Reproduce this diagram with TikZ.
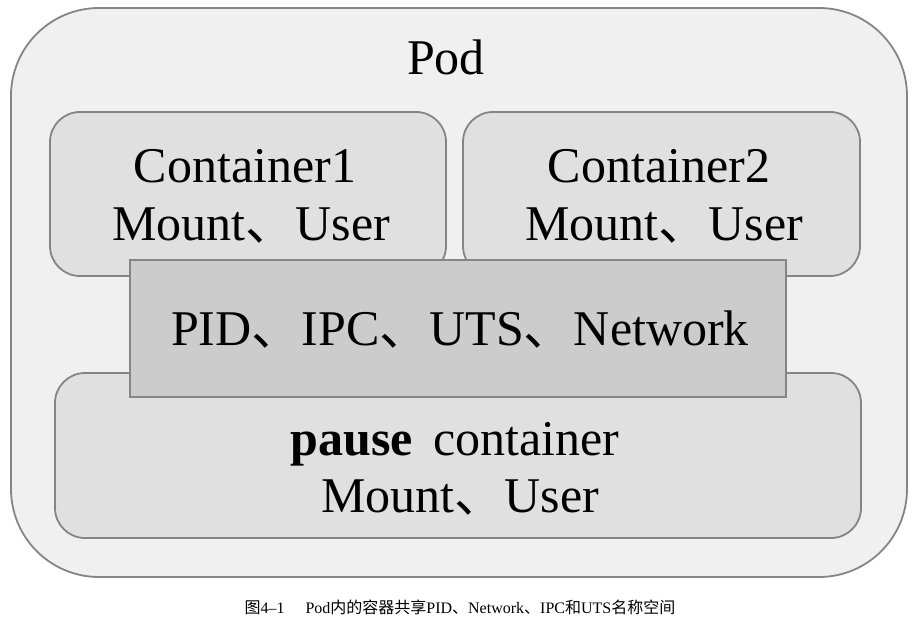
\documentclass[tikz,border=0pt]{standalone}
\usepackage{fontspec}
\setmainfont{Liberation Serif}
\newfontfamily\cjk{Noto Sans CJK SC}
\newcommand{\dun}{{\cjk 、}}
\begin{document}
\begin{tikzpicture}[x=1pt, y=-1pt,
  box/.style={draw=black!48, line width=1.8pt},
  label/.style={font=\fontsize{50}{60}\selectfont, inner sep=0pt, anchor=base},
  capt/.style={font=\fontsize{16}{19}\selectfont, inner sep=0pt, anchor=base}]
\useasboundingbox (0, 0) rectangle (920, 617);

\draw [box, fill=black!6, rounded corners=88pt] (11, 8) rectangle (907, 577);

\draw [box, fill=black!12, rounded corners=30pt] (50, 112) rectangle (446, 276);
\draw [box, fill=black!12, rounded corners=30pt] (463, 112) rectangle (860, 276);
\draw [box, fill=black!12, rounded corners=30pt] (55, 373) rectangle (861, 538);

\draw [box, fill=black!20] (130, 260) rectangle (786, 397);

\node [label] (pod) at (446, 75) {Pod};

\node [label] (c1) at (245, 183) {Container1};
\node [label] (c1ns) at (251, 241) {Mount\dun User};

\node [label] (c2) at (659, 183) {Container2};
\node [label] (c2ns) at (664, 241) {Mount\dun User};

\node [label] (shared) at (460, 345) {PID\dun IPC\dun UTS\dun Network};

\node [label] (pause) at (455, 455) {\textbf{pause}\, container};
\node [label] (pausens) at (460, 512) {Mount\dun User};

\node [capt] (caption) at (460, 613) {{\cjk 图}4--1\hspace{1.3em}Pod{\cjk 内的容器共享}PID{\cjk 、}Network{\cjk 、}IPC{\cjk 和}UTS{\cjk 名称空间}};
\end{tikzpicture}
\end{document}
